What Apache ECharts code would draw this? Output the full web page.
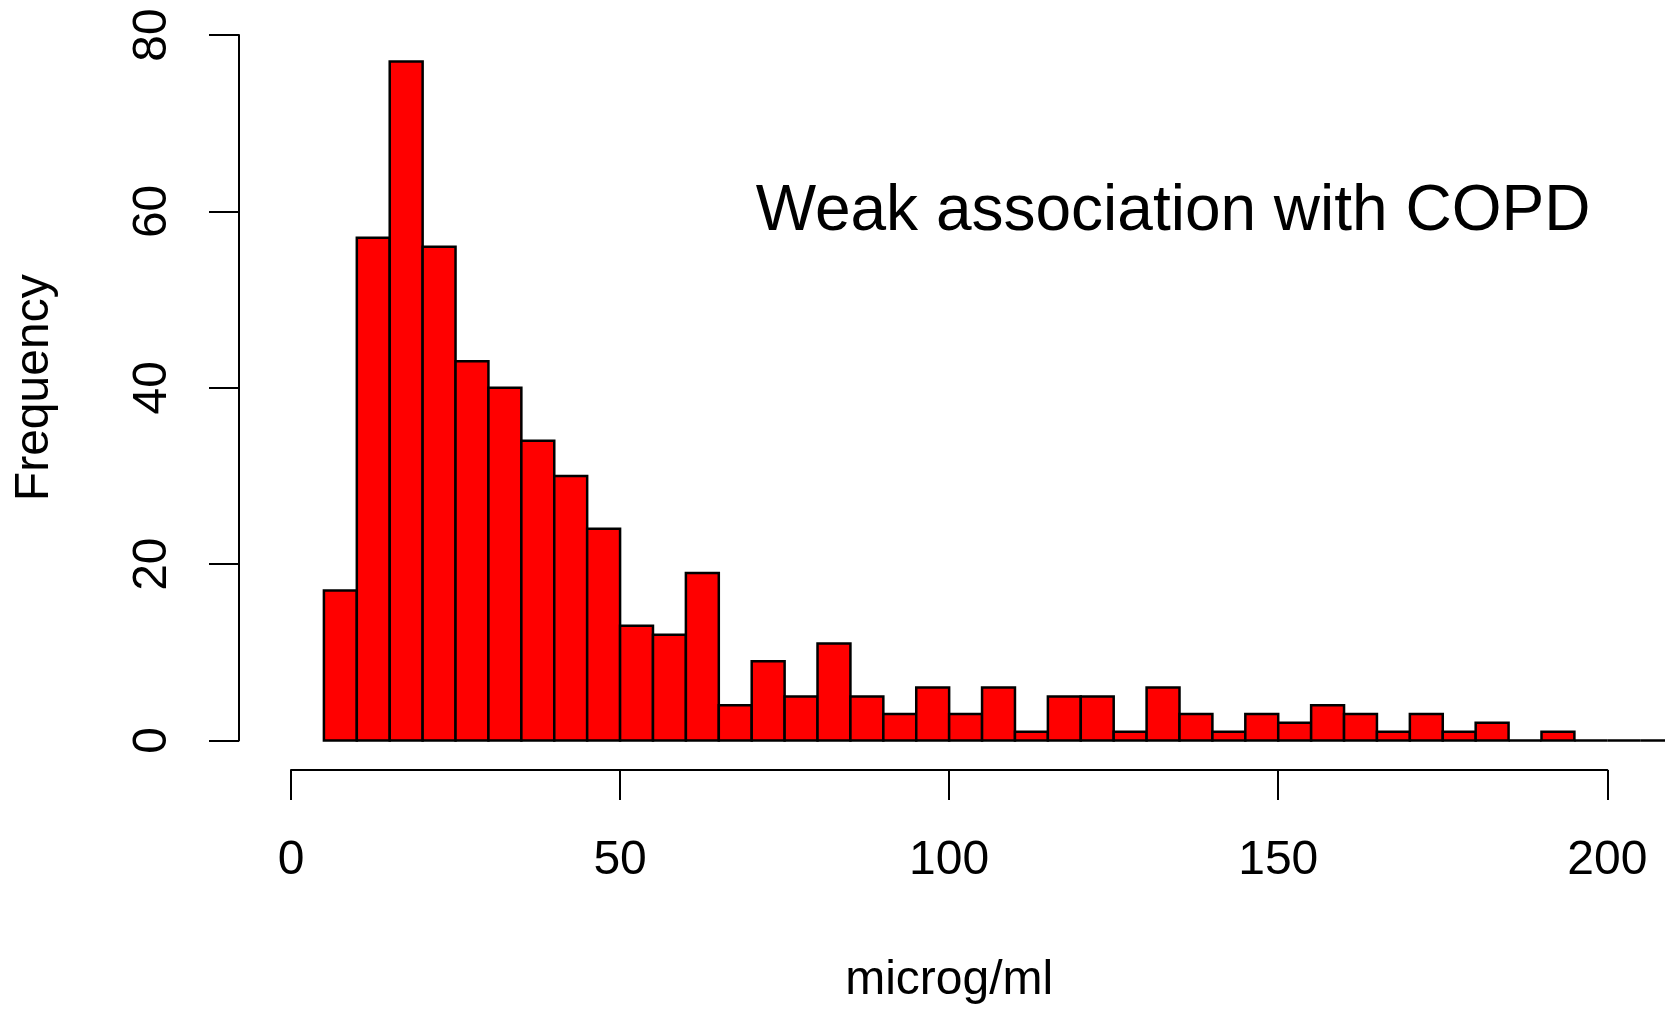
<!DOCTYPE html>
<html>
<head>
<meta charset="utf-8">
<title>Histogram</title>
<script src="https://cdn.jsdelivr.net/npm/echarts@6/dist/echarts.min.js"></script>
<style>
  html, body { margin: 0; padding: 0; background: #ffffff; }
  #chart { width: 1665px; height: 1010px; }
</style>
</head>
<body>
<div id="chart"></div>
<script>
// Bin edges (microg/ml), 5-wide bins
const binEdges = [5, 10, 15, 20, 25, 30, 35, 40, 45, 50, 55, 60, 65, 70, 75, 80, 85, 90, 95, 100,
  105, 110, 115, 120, 125, 130, 135, 140, 145, 150, 155, 160, 165, 170, 175, 180, 185, 190, 195, 200,
  205, 210];
// Count of observations in each bin
const binCounts = [17, 57, 77, 56, 43, 40, 34, 30, 24, 13, 12, 19, 4, 9, 5, 11, 5, 3, 6, 3,
  6, 1, 5, 5, 1, 6, 3, 1, 3, 2, 4, 3, 1, 3, 1, 2, 0, 1, 0, 0,
  0];
// Axis tick labels
const xTicks = [0, 50, 100, 150, 200];
const yTicks = [0, 20, 40, 60, 80];

const xLabel = 'microg/ml';
const yLabel = 'Frequency';
const note = 'Weak association with COPD';

const FONT = '"Liberation Sans", Arial, Helvetica, sans-serif';

const bins = binCounts.map((c, i) => [binEdges[i], binEdges[i + 1], c]);

const chart = echarts.init(document.getElementById('chart'), null, { renderer: 'canvas' });

chart.setOption({
  backgroundColor: '#ffffff',
  animation: false,
  grid: { left: 291, top: 35, width: 1316.3, height: 711.5 },
  xAxis: {
    type: 'value',
    min: xTicks[0],
    max: xTicks[xTicks.length - 1],
    interval: xTicks[1] - xTicks[0],
    offset: 29.5,
    splitLine: { show: false },
    axisLine: { show: true, onZero: false, lineStyle: { color: '#000', width: 2 } },
    axisTick: { show: true, length: 30, lineStyle: { color: '#000', width: 2 } },
    axisLabel: { color: '#000', fontFamily: FONT, fontSize: 48, margin: 67, showMinLabel: true, showMaxLabel: true },
    name: xLabel,
    nameLocation: 'middle',
    nameGap: 187,
    nameTextStyle: { color: '#000', fontFamily: FONT, fontSize: 48 }
  },
  yAxis: {
    type: 'value',
    min: yTicks[0],
    max: yTicks[yTicks.length - 1],
    interval: yTicks[1] - yTicks[0],
    offset: 52,
    splitLine: { show: false },
    axisLine: { show: true, onZero: false, lineStyle: { color: '#000', width: 2 } },
    axisTick: { show: true, length: 30, lineStyle: { color: '#000', width: 2 } },
    axisLabel: { color: '#000', fontFamily: FONT, fontSize: 48, rotate: 90, margin: 62, showMinLabel: true, showMaxLabel: true },
    name: yLabel,
    nameLocation: 'middle',
    nameRotate: 90,
    nameGap: 180,
    nameTextStyle: { color: '#000', fontFamily: FONT, fontSize: 48 }
  },
  graphic: [{
    type: 'text',
    x: 1173,
    y: 212.5,
    silent: true,
    style: {
      text: note,
      fill: '#000',
      fontFamily: FONT,
      fontSize: 64,
      align: 'center',
      verticalAlign: 'middle'
    }
  }],
  series: [{
    type: 'custom',
    silent: true,
    clip: false,
    encode: { x: [0, 1], y: 2 },
    data: bins,
    renderItem: function (params, api) {
      const topLeft = api.coord([api.value(0), api.value(2)]);
      const bottomRight = api.coord([api.value(1), 0]);
      return {
        type: 'rect',
        shape: {
          x: topLeft[0],
          y: topLeft[1],
          width: bottomRight[0] - topLeft[0],
          height: bottomRight[1] - topLeft[1]
        },
        style: { fill: '#ff0000', stroke: '#000000', lineWidth: 2.5 }
      };
    }
  }]
});
</script>
</body>
</html>
